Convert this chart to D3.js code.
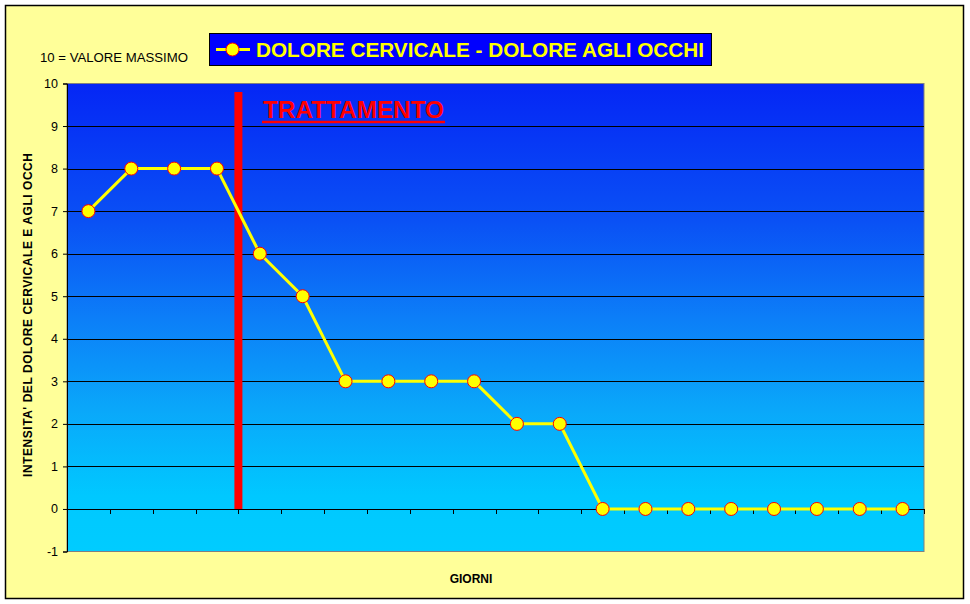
<!DOCTYPE html>
<html><head><meta charset="utf-8">
<script src="https://cdn.jsdelivr.net/npm/d3@7"></script>
<style>body{margin:0;background:#fff}svg{display:block}</style>
</head><body>
<script>
const days = d3.range(1, 21).map(String);
const values = [7,8,8,8,6,5,3,3,3,3,2,2,0,0,0,0,0,0,0,0];
const yTicks = [-1,0,1,2,3,4,5,6,7,8,9,10];
const seriesName = "DOLORE CERVICALE - DOLORE AGLI OCCHI";
const treatmentIndex = 4; // boundary before 5th day
const treatmentTop = 9.8;

const W = 970, H = 604;
const m = {left: 67, right: 924, top: 83.5, bottom: 551.5};
const FONT = "Arial, 'Liberation Sans', sans-serif";

const svg = d3.select("body").append("svg").attr("width", W).attr("height", H);

svg.append("rect").attr("x", 5.5).attr("y", 5.5).attr("width", 958).attr("height", 593)
  .attr("fill", "#FFFF99").attr("stroke", "#000").attr("stroke-width", 1.5);

const x = d3.scaleBand().domain(days).range([m.left, m.right]).padding(0);
const y = d3.scaleLinear().domain([-1, 10]).range([m.bottom, m.top]);

const defs = svg.append("defs");
const grad = defs.append("linearGradient").attr("id", "bg").attr("x1", 0).attr("y1", 0).attr("x2", 0).attr("y2", 1);
[["0%", "#0526f5"], ["30%", "#0a52f5"], ["50%", "#0c7ef8"], ["70%", "#0aa8fa"], ["88%", "#00c8ff"], ["100%", "#00ccff"]]
  .forEach(([o, c]) => grad.append("stop").attr("offset", o).attr("stop-color", c));

svg.append("rect").attr("x", m.left).attr("y", m.top).attr("width", m.right - m.left).attr("height", m.bottom - m.top)
  .attr("fill", "url(#bg)").attr("stroke", "#808080").attr("stroke-width", 1);

// gridlines
svg.append("g").selectAll("line").data(yTicks.filter(v => v > -1 && v < 10)).join("line")
  .attr("x1", m.left).attr("x2", m.right).attr("y1", d => Math.round(y(d)) + 0.5).attr("y2", d => Math.round(y(d)) + 0.5)
  .attr("stroke", "#000").attr("stroke-width", 1);

// y axis
const yAxis = d3.axisLeft(y).tickValues(yTicks).tickSize(4).tickPadding(5).tickFormat(d => String(d));
const gy = svg.append("g").attr("transform", `translate(${m.left},0)`).call(yAxis);
gy.select(".domain").attr("stroke", "#000");
gy.selectAll(".tick line").attr("stroke", "#000");
gy.selectAll("text").attr("font-family", FONT).attr("font-size", 12.5).attr("fill", "#000");

// x axis at zero with boundary ticks
const boundaries = d3.range(1, days.length + 1).map(i => m.left + i * x.step());
svg.append("line").attr("x1", m.left).attr("x2", m.right).attr("y1", Math.round(y(0)) + 0.5).attr("y2", Math.round(y(0)) + 0.5)
  .attr("stroke", "#000");
svg.append("g").selectAll("line").data(boundaries).join("line")
  .attr("x1", d => Math.round(d) + 0.5).attr("x2", d => Math.round(d) + 0.5)
  .attr("y1", Math.round(y(0))).attr("y2", Math.round(y(0)) + 5).attr("stroke", "#000");

// treatment line
const tx = m.left + treatmentIndex * x.step();
svg.append("line").attr("x1", tx).attr("x2", tx).attr("y1", y(treatmentTop)).attr("y2", y(0))
  .attr("stroke", "#ff0000").attr("stroke-width", 8);

svg.append("text").attr("x", 263).attr("y", 117.5).text("TRATTAMENTO")
  .attr("font-family", FONT).attr("font-weight", "bold").attr("font-size", 23).attr("fill", "#ff0000")
  .attr("textLength", 181).attr("lengthAdjust", "spacingAndGlyphs");
svg.append("line").attr("x1", 262).attr("x2", 445).attr("y1", 122).attr("y2", 122)
  .attr("stroke", "#ff0000").attr("stroke-width", 2.5);

// series line
const cx = d => x(d) + x.bandwidth() / 2;
svg.append("path").datum(values.map((v, i) => [days[i], v]))
  .attr("d", d3.line().x(d => cx(d[0])).y(d => y(d[1])))
  .attr("fill", "none").attr("stroke", "#ffff00").attr("stroke-width", 3);
svg.append("g").selectAll("circle").data(values.map((v, i) => [days[i], v])).join("circle")
  .attr("cx", d => cx(d[0])).attr("cy", d => y(d[1])).attr("r", 6.5)
  .attr("fill", "#ffff00").attr("stroke", "#ff0000").attr("stroke-width", 1);

// legend
const lg = svg.append("g");
lg.append("rect").attr("x", 209.5).attr("y", 33.5).attr("width", 502).attr("height", 32)
  .attr("fill", "#0000ff").attr("stroke", "#000").attr("stroke-width", 1);
lg.append("line").attr("x1", 216).attr("x2", 250).attr("y1", 49.5).attr("y2", 49.5).attr("stroke", "#ffff00").attr("stroke-width", 3);
lg.append("circle").attr("cx", 232.5).attr("cy", 49.5).attr("r", 6.5).attr("fill", "#ffff00").attr("stroke", "#ff0000");
lg.append("text").attr("x", 256).attr("y", 57).text(seriesName)
  .attr("font-family", FONT).attr("font-weight", "bold").attr("font-size", 19.5)
  .attr("fill", "#ffff00").attr("textLength", 448).attr("lengthAdjust", "spacingAndGlyphs");

// annotations
svg.append("text").attr("x", 40).attr("y", 62).text("10 = VALORE MASSIMO")
  .attr("font-family", FONT).attr("font-size", 12.5).attr("fill", "#000")
  .attr("textLength", 148).attr("lengthAdjust", "spacingAndGlyphs");

svg.append("text").attr("x", 471).attr("y", 583).attr("text-anchor", "middle").text("GIORNI")
  .attr("font-family", FONT).attr("font-weight", "bold").attr("font-size", 12).attr("fill", "#000");

svg.append("text").attr("transform", "translate(32,315) rotate(-90)").attr("text-anchor", "middle")
  .text("INTENSITA' DEL DOLORE CERVICALE E AGLI OCCH")
  .attr("font-family", FONT).attr("font-weight", "bold").attr("font-size", 12).attr("fill", "#000")
  .attr("textLength", 324).attr("lengthAdjust", "spacing");
</script>
</body></html>
